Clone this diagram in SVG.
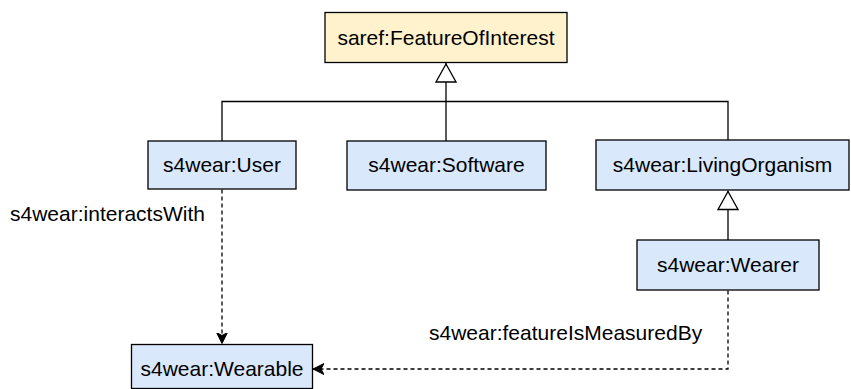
<svg xmlns="http://www.w3.org/2000/svg" width="851" height="389" viewBox="0 0 851 389">
<style>
text{font-family:"Liberation Sans",Arial,Helvetica,sans-serif;font-size:21px;fill:#000}
.c{text-anchor:middle}
.n{fill:#dae8fc;stroke:#000;stroke-width:1.3}
.y{fill:#fff2cc;stroke:#000;stroke-width:1.3}
.e{fill:none;stroke:#000;stroke-width:1.3}
.d{fill:none;stroke:#000;stroke-width:1.3;stroke-dasharray:4 3}
</style>
<defs>
<marker id="tri" viewBox="0 0 20 22" refX="20" refY="11" markerWidth="20" markerHeight="22" markerUnits="userSpaceOnUse" orient="auto">
<path d="M1,1 L19,11 L1,21 Z" fill="#fff" stroke="#000" stroke-width="1.3"/>
</marker>
<marker id="arr" viewBox="0 0 12 12" refX="11" refY="6" markerWidth="12" markerHeight="12" markerUnits="userSpaceOnUse" orient="auto">
<path d="M0,0.5 L11,6 L0,11.5 L3,6 Z" fill="#000" stroke="#000" stroke-width="1"/>
</marker>
</defs>
<g id="connectors">
<path class="e" d="M222,141 V101.5 H728 V141"/>
<path class="e" d="M446,141 V101.5"/>
<path class="e" d="M446,101.5 V63" marker-end="url(#tri)"/>
<path class="e" d="M728,240 V190.5" marker-end="url(#tri)"/>
<path class="d" d="M222,189.5 V343.5" marker-end="url(#arr)"/>
<path class="d" d="M728,290.5 V369 H313" marker-end="url(#arr)"/>
<text x="10" y="221">s4wear:interactsWith</text>
<text x="429" y="340">s4wear:featureIsMeasuredBy</text>
</g>
<g id="foi"><rect class="y" x="325" y="12.5" width="242" height="50"/><text class="c" x="446" y="45">saref:FeatureOfInterest</text></g>
<g id="user"><rect class="n" x="148" y="141" width="148" height="48"/><text class="c" x="222" y="172">s4wear:User</text></g>
<g id="software"><rect class="n" x="347" y="141" width="199" height="49"/><text class="c" x="446.5" y="172">s4wear:Software</text></g>
<g id="living"><rect class="n" x="596" y="140" width="253" height="50"/><text class="c" x="722.5" y="172">s4wear:LivingOrganism</text></g>
<g id="wearer"><rect class="n" x="637" y="240" width="182" height="50"/><text class="c" x="728" y="272">s4wear:Wearer</text></g>
<g id="wearable"><rect class="n" x="131.5" y="344.5" width="181" height="44"/><text class="c" x="222" y="376">s4wear:Wearable</text></g>
</svg>
